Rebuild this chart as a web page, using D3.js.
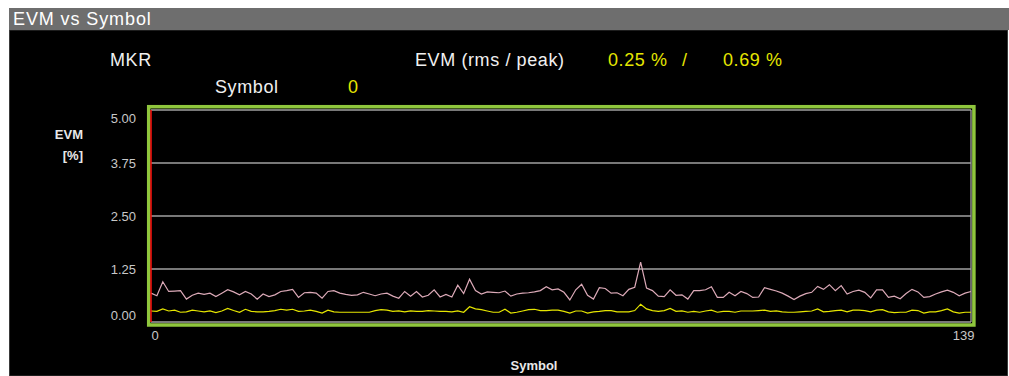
<!DOCTYPE html>
<html>
<head>
<meta charset="utf-8">
<script src="https://cdn.jsdelivr.net/npm/d3@7"></script>
<style>
  html, body { margin: 0; padding: 0; background: #ffffff; }
  svg { display: block; }
  text { font-family: "Liberation Sans", Arial, sans-serif; }
</style>
</head>
<body>
<svg id="chart" width="1009" height="376"></svg>
<script>
// Symbol axis
const symbols = d3.range(0, 140);
const xTickLabels = ["0", "139"];
const yTickValues = [0, 1.25, 2.5, 3.75, 5];

// Peak EVM per symbol [%]
const evmPeak = [
  0.68, 0.62, 0.95, 0.72, 0.73, 0.74, 0.54, 0.63, 0.68, 0.65,
  0.68, 0.60, 0.68, 0.76, 0.71, 0.64, 0.72, 0.66, 0.54, 0.66,
  0.60, 0.64, 0.72, 0.74, 0.77, 0.58, 0.69, 0.70, 0.68, 0.56,
  0.72, 0.74, 0.68, 0.65, 0.63, 0.64, 0.70, 0.66, 0.62, 0.66,
  0.68, 0.61, 0.56, 0.72, 0.61, 0.72, 0.59, 0.63, 0.76, 0.59,
  0.65, 0.59, 0.87, 0.67, 1.01, 0.74, 0.66, 0.71, 0.70, 0.69,
  0.73, 0.61, 0.66, 0.68, 0.69, 0.71, 0.74, 0.83, 0.76, 0.78,
  0.70, 0.52, 0.76, 0.89, 0.63, 0.54, 0.81, 0.79, 0.68, 0.69,
  0.62, 0.77, 0.82, 1.41, 0.80, 0.74, 0.61, 0.60, 0.76, 0.63,
  0.64, 0.54, 0.74, 0.74, 0.76, 0.83, 0.58, 0.58, 0.70, 0.62,
  0.72, 0.67, 0.58, 0.59, 0.81, 0.77, 0.73, 0.68, 0.61, 0.53,
  0.61, 0.67, 0.70, 0.84, 0.77, 0.88, 0.74, 0.86, 0.66, 0.72,
  0.75, 0.70, 0.57, 0.76, 0.76, 0.58, 0.61, 0.55, 0.67, 0.77,
  0.71, 0.58, 0.60, 0.66, 0.71, 0.75, 0.70, 0.62, 0.68, 0.72
];

// RMS EVM per symbol [%]
const evmRms = [
  0.26, 0.25, 0.31, 0.26, 0.28, 0.23, 0.24, 0.28, 0.26, 0.24,
  0.26, 0.22, 0.26, 0.32, 0.27, 0.23, 0.30, 0.25, 0.24, 0.24,
  0.25, 0.27, 0.30, 0.28, 0.30, 0.25, 0.26, 0.28, 0.25, 0.21,
  0.28, 0.24, 0.23, 0.23, 0.23, 0.23, 0.23, 0.23, 0.27, 0.29,
  0.28, 0.25, 0.26, 0.24, 0.26, 0.25, 0.25, 0.27, 0.26, 0.25,
  0.25, 0.24, 0.26, 0.23, 0.36, 0.31, 0.29, 0.26, 0.23, 0.23,
  0.30, 0.21, 0.23, 0.26, 0.29, 0.30, 0.27, 0.27, 0.28, 0.28,
  0.25, 0.21, 0.26, 0.26, 0.21, 0.24, 0.25, 0.27, 0.27, 0.24,
  0.24, 0.24, 0.27, 0.42, 0.31, 0.27, 0.25, 0.27, 0.32, 0.25,
  0.26, 0.23, 0.25, 0.23, 0.26, 0.28, 0.23, 0.25, 0.25, 0.23,
  0.26, 0.26, 0.26, 0.27, 0.28, 0.25, 0.26, 0.24, 0.23, 0.23,
  0.24, 0.25, 0.26, 0.31, 0.24, 0.25, 0.27, 0.28, 0.24, 0.28,
  0.28, 0.27, 0.24, 0.28, 0.29, 0.24, 0.22, 0.23, 0.23, 0.28,
  0.27, 0.21, 0.24, 0.24, 0.27, 0.31, 0.24, 0.21, 0.23, 0.23
];

const markerSymbol = 0;
const rmsText = "0.25 %";
const peakText = "0.69 %";

const svg = d3.select("#chart");

// Panel: title bar and black body
svg.append("rect").attr("x", 9.5).attr("y", 30).attr("width", 998).attr("height", 346)
  .attr("fill", "#000").attr("stroke", "#3a3a3a").attr("stroke-width", 1);
svg.append("rect").attr("x", 9).attr("y", 8).attr("width", 1000).attr("height", 22)
  .attr("fill", "#6e6e6e");
svg.append("text").attr("x", 13).attr("y", 25)
  .attr("fill", "#ffffff").attr("font-size", 18).attr("letter-spacing", 0.9)
  .text("EVM vs Symbol");

// Marker readout
const hdr = svg.append("g").attr("font-size", 18).attr("letter-spacing", 0.6);
hdr.append("text").attr("x", 110).attr("y", 65.5).attr("fill", "#f0f0f0").text("MKR");
hdr.append("text").attr("x", 215).attr("y", 92.5).attr("fill", "#f0f0f0").text("Symbol");
hdr.append("text").attr("x", 348).attr("y", 93).attr("fill", "#e6e600").text(String(markerSymbol));
hdr.append("text").attr("x", 415).attr("y", 65.5).attr("fill", "#f0f0f0").text("EVM (rms / peak)");
hdr.append("text").attr("x", 608).attr("y", 65.5).attr("fill", "#e6e600").text(rmsText);
hdr.append("text").attr("x", 682).attr("y", 65.5).attr("fill", "#e6e600").text("/");
hdr.append("text").attr("x", 723).attr("y", 65.5).attr("fill", "#e6e600").text(peakText);

// Plot area
const x0 = 151, x1 = 971, yTop = 110, yBot = 322;
const x = d3.scaleLinear().domain([0, 139]).range([x0, x1]);
const y = d3.scaleLinear().domain([0, 5]).range([yBot, yTop]);

// Outer highlight frame
svg.append("rect").attr("x", 148.7).attr("y", 106.7)
  .attr("width", 973.9 - 148.7).attr("height", 325 - 106.7)
  .attr("fill", "none").attr("stroke", "#8fc63d").attr("stroke-width", 3.5);

// Grid lines
svg.append("g").selectAll("line").data(yTickValues).join("line")
  .attr("x1", x0).attr("x2", x1)
  .attr("y1", d => y(d)).attr("y2", d => y(d))
  .attr("stroke", "#a0a0a0").attr("stroke-width", 1.3);
// Inner frame sides
svg.append("line").attr("x1", x1).attr("x2", x1).attr("y1", yTop).attr("y2", yBot)
  .attr("stroke", "#a0a0a0").attr("stroke-width", 1.3);

// Y axis labels
const yAxis = d3.axisLeft(y).tickValues(yTickValues).tickFormat(d3.format(".2f")).tickSize(0).tickPadding(0);
const yg = svg.append("g").attr("transform", "translate(136,0)").call(yAxis);
yg.select(".domain").remove();
yg.selectAll("text")
  .attr("fill", "#c8c8c8").attr("font-size", 13).attr("font-family", "Liberation Sans, Arial, sans-serif")
  .attr("dy", d => d === 5 ? "12px" : d === 0 ? "-3px" : "4.5px");

svg.append("text").attr("x", 83).attr("y", 139).attr("text-anchor", "end")
  .attr("fill", "#e8e8e8").attr("font-size", 13).attr("font-weight", "bold").text("EVM");
svg.append("text").attr("x", 83).attr("y", 160).attr("text-anchor", "end")
  .attr("fill", "#e8e8e8").attr("font-size", 13).attr("font-weight", "bold").text("[%]");

// X axis labels
const xAxis = d3.axisBottom(x).tickValues([0, 139]).tickFormat((d, i) => xTickLabels[i]).tickSize(0).tickPadding(0);
const xg = svg.append("g").attr("transform", "translate(0,340)").call(xAxis);
xg.select(".domain").remove();
xg.selectAll("text")
  .attr("fill", "#c8c8c8").attr("font-size", 13).attr("font-family", "Liberation Sans, Arial, sans-serif")
  .attr("dy", 0)
  .attr("text-anchor", (d, i) => i === 0 ? "start" : "end")
  .attr("dx", (d, i) => i === 0 ? "0px" : "3px");

svg.append("text").attr("x", 534).attr("y", 370).attr("text-anchor", "middle")
  .attr("fill", "#e8e8e8").attr("font-size", 13).attr("font-weight", "bold").text("Symbol");

// Traces
const line = d3.line().x((d, i) => x(symbols[i])).y(d => y(d));
svg.append("path").datum(evmPeak).attr("d", line)
  .attr("fill", "none").attr("stroke", "#dcaab8").attr("stroke-width", 1.2);
svg.append("path").datum(evmRms).attr("d", line)
  .attr("fill", "none").attr("stroke", "#e6e600").attr("stroke-width", 1.2);

// Marker
svg.append("line").attr("x1", x(markerSymbol)).attr("x2", x(markerSymbol))
  .attr("y1", yTop).attr("y2", yBot)
  .attr("stroke", "#ff1010").attr("stroke-width", 1.5);
</script>
</body>
</html>
